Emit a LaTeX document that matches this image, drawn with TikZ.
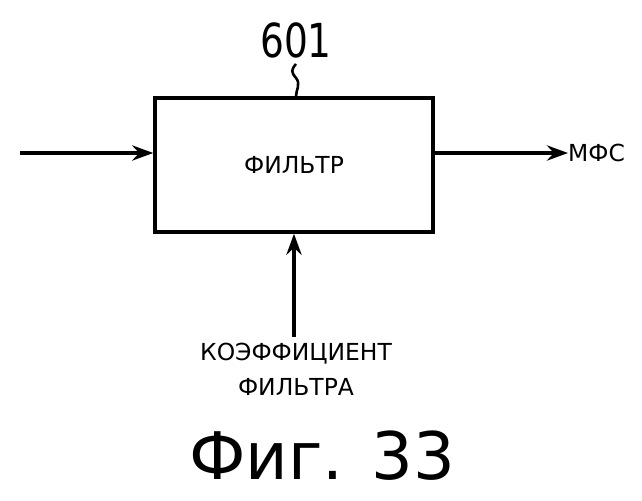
\documentclass[tikz,border=0pt]{standalone}
\usepackage{fontspec}
\setmainfont{DejaVu Sans}
\usetikzlibrary{arrows.meta}
\tikzset{
  sig/.style={line width=3.2pt,-{Stealth[length=18pt,width=13pt,inset=6pt]}},
  lbl/.style={font=\fontsize{20pt}{24pt}\selectfont,inner sep=0pt}
}
\begin{document}
\begin{tikzpicture}[x=0.03cm,y=-0.03cm]
\useasboundingbox (0,0) rectangle (642,500);

% block
\node[draw,line width=3pt,minimum width=278*0.03cm,minimum height=134*0.03cm,
  lbl] (filt) at (294,165) {ФИЛЬТР};
\node[inner sep=0pt] (num) at (296,40) {\scalebox{0.8}[1]{\fontsize{40pt}{44pt}\selectfont 601}};
\draw[line width=2.2pt] (num.south) ++(0,6) coordinate (s0)
  .. controls +(-5,6) and +(-5,-6) .. ++(0,14)
  .. controls +(5,6) and +(0,-6) .. (filt.north -| s0);

% signals
\coordinate (in) at (20,153);
\draw[sig] (in) -- (in -| filt.west);
\node[lbl,anchor=west] (mfs) at (568,153) {МФС};
\draw[sig] (filt.east |- in) -- (mfs.west);
\node[lbl,align=center] (coef) at (296,369) {КОЭФФИЦИЕНТ\\[6pt]ФИЛЬТРА};
\draw[sig] (coef.north -| filt.south) ++(0,-6) -- (filt.south);

\node[inner sep=0pt] (fig) at (322,456) {\fontsize{56pt}{62pt}\selectfont Фиг. 33};
\end{tikzpicture}
\end{document}
